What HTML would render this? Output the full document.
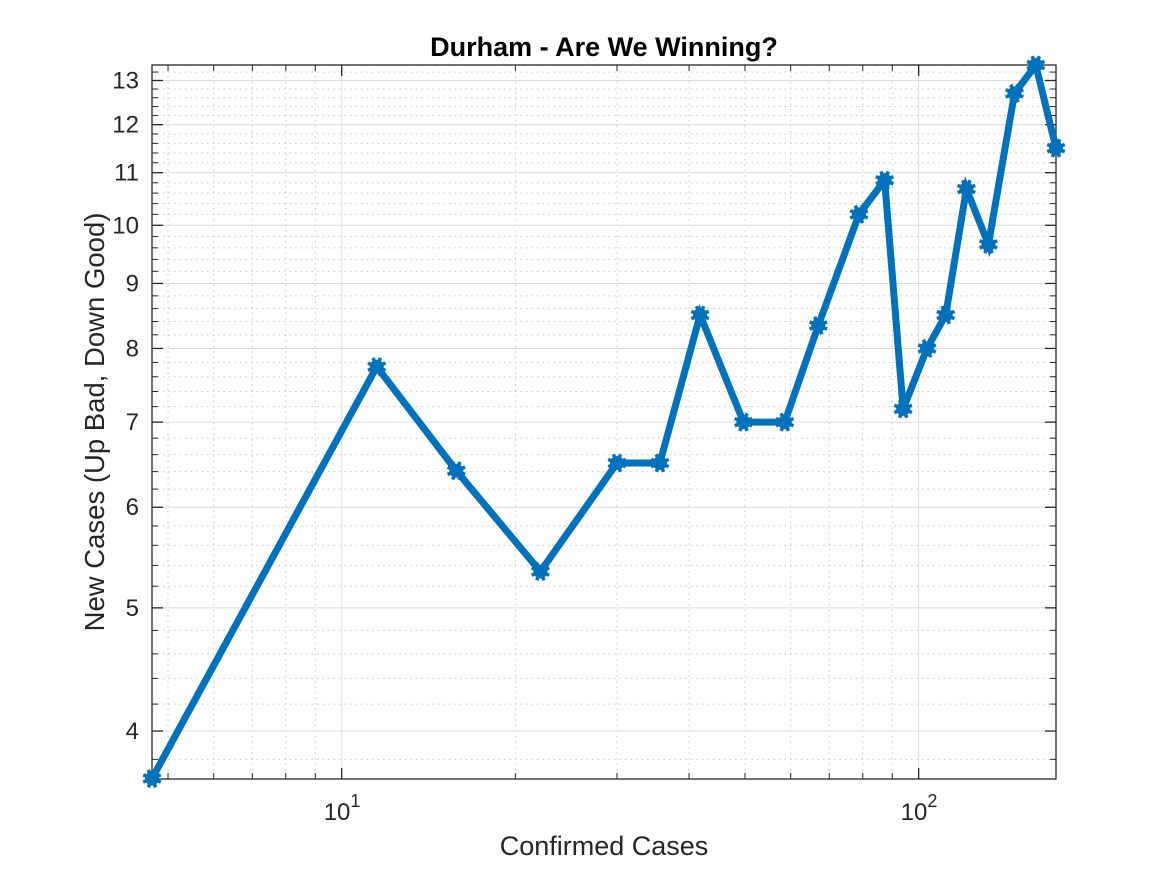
<!DOCTYPE html>
<html><head><meta charset="utf-8"><style>
body{margin:0;background:#fff;}
svg text{font-family:"Liberation Sans",Arial,sans-serif;}
</style></head><body>
<svg id="chart" width="1167" height="875" xmlns="http://www.w3.org/2000/svg"></svg>
<script>
const xVals=[4.69,11.5,15.8,22.1,30.0,35.6,41.8,49.7,58.6,67.0,78.8,87.3,94.0,103.4,111.4,121.0,132.1,146.6,159.6,173];
const yVals=[3.67,7.74,6.41,5.34,6.5,6.5,8.5,7.0,7.0,8.34,10.2,10.85,7.17,8.0,8.5,10.68,9.66,12.7,13.37,11.5];
const yTicks=[4,5,6,7,8,9,10,11,12,13];
const xTicks=[10,100];
const xTickLabels=["1","2"];
const xMin=4.69,xMax=173,yMin=3.667,yMax=13.37;
const L=152,R=1056,T=65,B=779;
const NS="http://www.w3.org/2000/svg";
const svg=document.getElementById('chart');
const lg=Math.log10;
function sx(v){return L+(lg(v)-lg(xMin))/(lg(xMax)-lg(xMin))*(R-L);}
function sy(v){return B-(lg(v)-lg(yMin))/(lg(yMax)-lg(yMin))*(B-T);}
function mk(tag,attrs,parent){const e=document.createElementNS(NS,tag);for(const k in attrs)e.setAttribute(k,attrs[k]);(parent||svg).appendChild(e);return e;}
const grid=mk('g',{});


for(let d=1;d<=100;d*=10){for(let m=2;m<=9;m++){const v=m*d;if(v>xMin&&v<xMax){const x=sx(v);mk('line',{x1:x,x2:x,y1:T,y2:B,stroke:'#c8c8c8','stroke-dasharray':'1.5,4','stroke-width':1},grid);
mk('line',{x1:x,x2:x,y1:B,y2:B-6,stroke:'#262626','stroke-width':1},grid);mk('line',{x1:x,x2:x,y1:T,y2:T+6,stroke:'#262626','stroke-width':1},grid);}}}
for(let v=3.8;v<yMax;v=Math.round((v+0.2)*10)/10){if(Math.abs(v-Math.round(v))<0.01)continue;const y=sy(v);mk('line',{x1:L,x2:R,y1:y,y2:y,stroke:'#c8c8c8','stroke-dasharray':'1.5,4','stroke-width':1},grid);
mk('line',{x1:L,x2:L+6,y1:y,y2:y,stroke:'#262626','stroke-width':1},grid);mk('line',{x1:R,x2:R-6,y1:y,y2:y,stroke:'#262626','stroke-width':1},grid);}
xTicks.forEach((v,i)=>{const x=sx(v);mk('line',{x1:x,x2:x,y1:T,y2:B,stroke:'#dcdcdc','stroke-width':1},grid);
mk('line',{x1:x,x2:x,y1:B,y2:B-11,stroke:'#262626','stroke-width':1.3},grid);mk('line',{x1:x,x2:x,y1:T,y2:T+11,stroke:'#262626','stroke-width':1.3},grid);
const t=mk('text',{x:x-18,y:820,'font-size':24,fill:'#262626'});


t.textContent='10';const s=mk('tspan',{dy:-13,'font-size':18},t);s.textContent=xTickLabels[i];});
yTicks.forEach(v=>{const y=sy(v);mk('line',{x1:L,x2:R,y1:y,y2:y,stroke:'#dcdcdc','stroke-width':1},grid);
mk('line',{x1:L,x2:L+11,y1:y,y2:y,stroke:'#262626','stroke-width':1.3},grid);mk('line',{x1:R,x2:R-11,y1:y,y2:y,stroke:'#262626','stroke-width':1.3},grid);
const t=mk('text',{x:139,y:y+8,'font-size':24,fill:'#262626','text-anchor':'end'});


t.textContent=v;});
const box=mk('rect',{x:L,y:T,width:R-L,height:B-T,fill:'none',stroke:'#262626','stroke-width':1.3});


const pts=xVals.map((v,i)=>sx(v)+','+sy(yVals[i])).join(' ');
const line=mk('polyline',{points:pts,fill:'none',stroke:'#0072BD','stroke-width':7,'stroke-linejoin':'miter'});


xVals.forEach((v,i)=>{const cx=sx(v),cy=sy(yVals[i]);const g=mk('g',{});


mk('circle',{cx:cx,cy:cy,r:7,fill:'#0072BD'},g);
for(let k=0;k<8;k++){const a=k*Math.PI/4+Math.PI/8;mk('line',{x1:cx,y1:cy,x2:cx+9.5*Math.cos(a),y2:cy+9.5*Math.sin(a),stroke:'#0072BD','stroke-width':3.5},g);}});
const title=mk('text',{x:604,y:56,'font-size':27,'font-weight':'bold',fill:'#000','text-anchor':'middle'});


title.textContent='Durham - Are We Winning?';
const xl=mk('text',{x:604,y:855,'font-size':27,fill:'#262626','text-anchor':'middle'});


xl.textContent='Confirmed Cases';
const yl=mk('text',{x:0,y:0,'font-size':27.5,fill:'#262626','text-anchor':'middle',transform:'translate(104,422) rotate(-90)'});


yl.textContent='New Cases (Up Bad, Down Good)';
</script>
</body></html>
